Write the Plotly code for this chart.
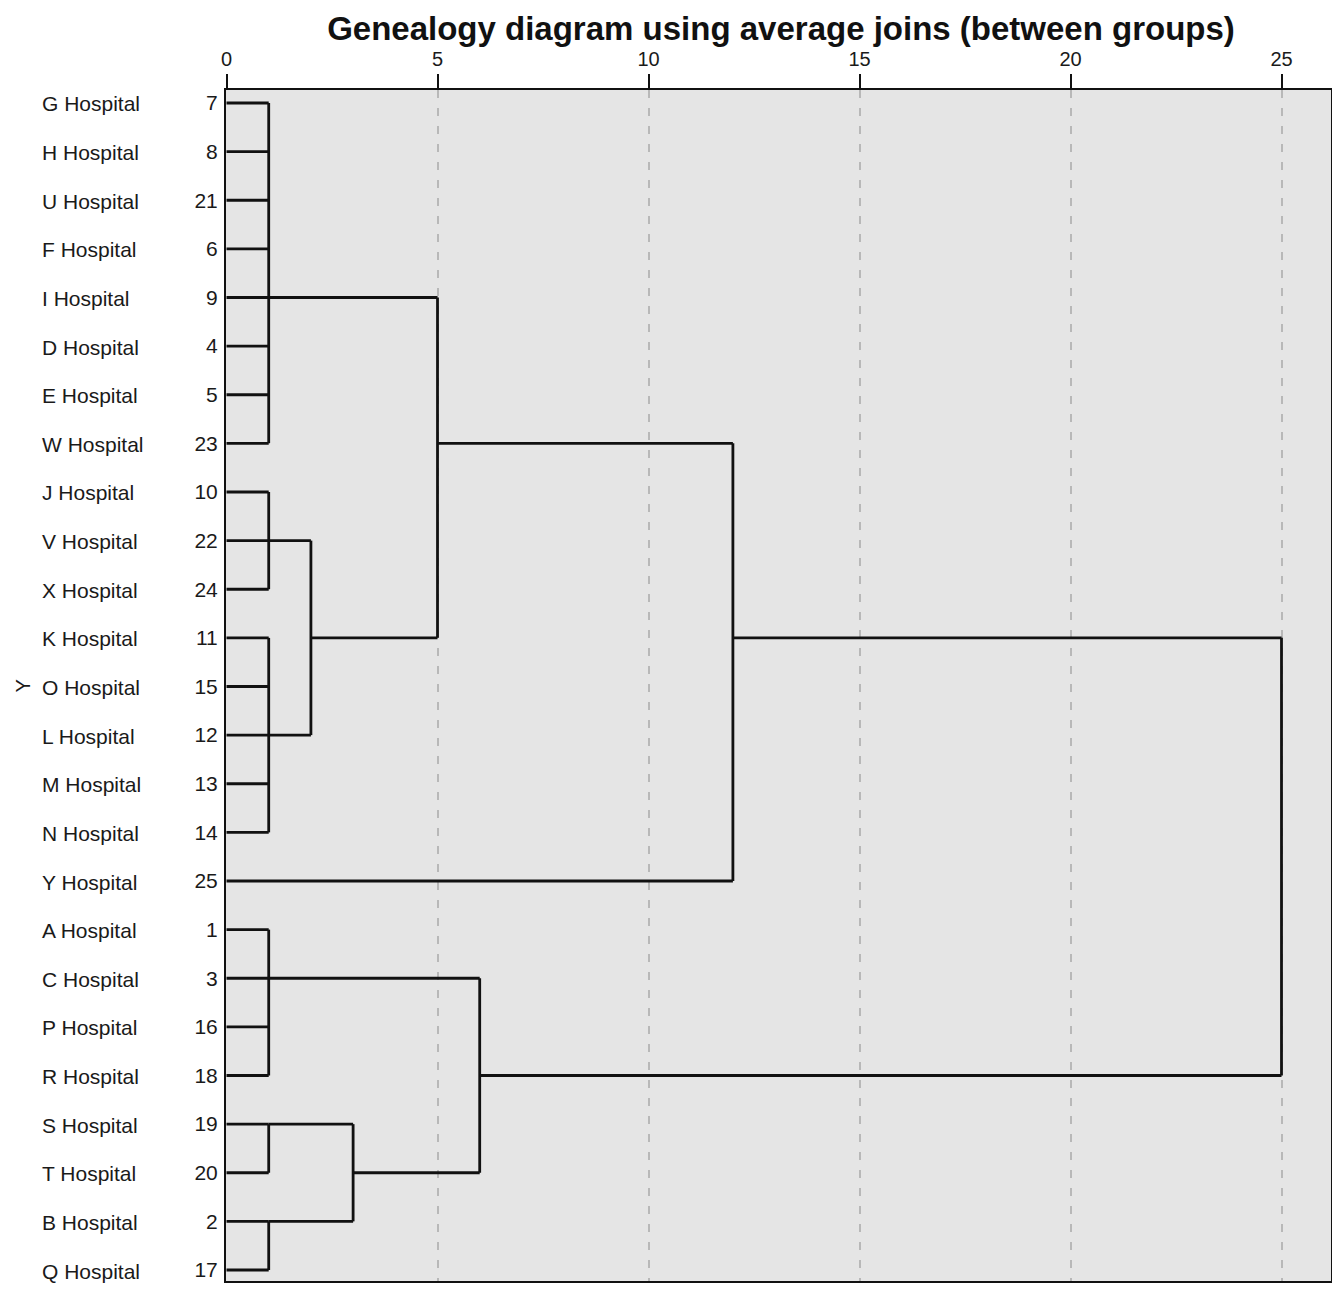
import plotly.graph_objects as go

# ---- data ----
hospitals = ["G Hospital", "H Hospital", "U Hospital", "F Hospital", "I Hospital",
             "D Hospital", "E Hospital", "W Hospital", "J Hospital", "V Hospital",
             "X Hospital", "K Hospital", "O Hospital", "L Hospital", "M Hospital",
             "N Hospital", "Y Hospital", "A Hospital", "C Hospital", "P Hospital",
             "R Hospital", "S Hospital", "T Hospital", "B Hospital", "Q Hospital"]
case_numbers = [7, 8, 21, 6, 9, 4, 5, 23, 10, 22, 24, 11, 15, 12, 13, 14, 25,
                1, 3, 16, 18, 19, 20, 2, 17]

# clusters: children (leaf index 0-24 or cluster id "c#"), rescaled join distance, link row
cluster_children = {
    "c1": [0, 1, 2, 3, 4, 5, 6, 7],
    "c2": [8, 9, 10],
    "c3": [11, 12, 13, 14, 15],
    "c4": ["c2", "c3"],
    "c5": ["c1", "c4"],
    "c6": ["c5", 16],
    "c7": [17, 18, 19, 20],
    "c8": [21, 22],
    "c9": [23, 24],
    "c10": ["c8", "c9"],
    "c11": ["c7", "c10"],
    "c12": ["c6", "c11"],
}
cluster_height = {"c1": 1, "c2": 1, "c3": 1, "c4": 2, "c5": 5, "c6": 12,
                  "c7": 1, "c8": 1, "c9": 1, "c10": 3, "c11": 6, "c12": 25}
cluster_link_row = {"c1": 4, "c2": 9, "c3": 13, "c4": 11, "c5": 7, "c6": 11,
                    "c7": 18, "c8": 21, "c9": 23, "c10": 22, "c11": 20, "c12": 15}

x_ticks = [0, 5, 10, 15, 20, 25]

# ---- build dendrogram segments ----
def node_height(n):
    return 0 if isinstance(n, int) else cluster_height[n]

def node_row(n):
    return n if isinstance(n, int) else cluster_link_row[n]

xs, ys = [], []
for cid, kids in cluster_children.items():
    h = cluster_height[cid]
    rows = [node_row(k) for k in kids]
    xs += [h, h, None]
    ys += [min(rows), max(rows), None]
    for k in kids:
        xs += [node_height(k), h, None]
        ys += [node_row(k), node_row(k), None]

fig = go.Figure()
fig.add_trace(go.Scatter(x=xs, y=ys, mode="lines",
                         line=dict(color="#111111", width=2.8),
                         hoverinfo="skip", showlegend=False))

n = len(hospitals)
rows_idx = list(range(n))

# page body has an 8px margin, so the figure is sized to fit the window
W, H = 1332, 1277
ml, mr, mt, mb = 218, 9, 82, 2
pw = W - ml - mr

FONT = "Liberation Sans, Arial, sans-serif"

for i, name in enumerate(hospitals):
    fig.add_annotation(x=(32 - ml) / pw, xref="paper", y=i, yref="y",
                       text=name, showarrow=False, xanchor="left", yanchor="middle",
                       yshift=-1,
                       font=dict(family=FONT, size=21, color="#1a1a1a"))

fig.add_annotation(x=(14 - ml) / pw, xref="paper", y=12, yref="y", text="Y",
                   textangle=-90, showarrow=False, xanchor="center", yanchor="middle",
                   font=dict(family=FONT, size=20, color="#1a1a1a"))

fig.update_layout(
    width=W, height=H,
    margin=dict(l=ml, r=mr, t=mt, b=mb),
    paper_bgcolor="white",
    plot_bgcolor="#e5e5e5",
    title=dict(text="<b>Genealogy diagram using average joins (between groups)</b>",
               x=(773 - ml) / pw, xref="paper", xanchor="center",
               y=1 - 20 / H, yanchor="middle",
               font=dict(family=FONT, size=33, color="#111111")),
    xaxis=dict(side="top", range=[-0.012, (pw - 0.5) / 42.2], tickvals=x_ticks,
               ticktext=[str(v) for v in x_ticks],
               ticks="outside", ticklen=14, tickwidth=2, tickcolor="#111111",
               tickfont=dict(family=FONT, size=20, color="#1a1a1a"),
               showgrid=True, gridcolor="#b8b8b8", gridwidth=1.5, griddash="8px,10px",
               zeroline=True, zerolinecolor="#111111", zerolinewidth=4,
               showline=True, linecolor="#111111", linewidth=2, mirror=True),
    yaxis=dict(range=[24.226, -0.267], tickvals=rows_idx,
               ticktext=[str(c) for c in case_numbers],
               ticks="", ticklabelstandoff=2, ticklabeloverflow="allow",
               tickfont=dict(family=FONT, size=21, color="#1a1a1a"),
               showgrid=False, zeroline=False,
               showline=True, linecolor="#111111", linewidth=2, mirror=True),
)

fig.write_html("out.html")
